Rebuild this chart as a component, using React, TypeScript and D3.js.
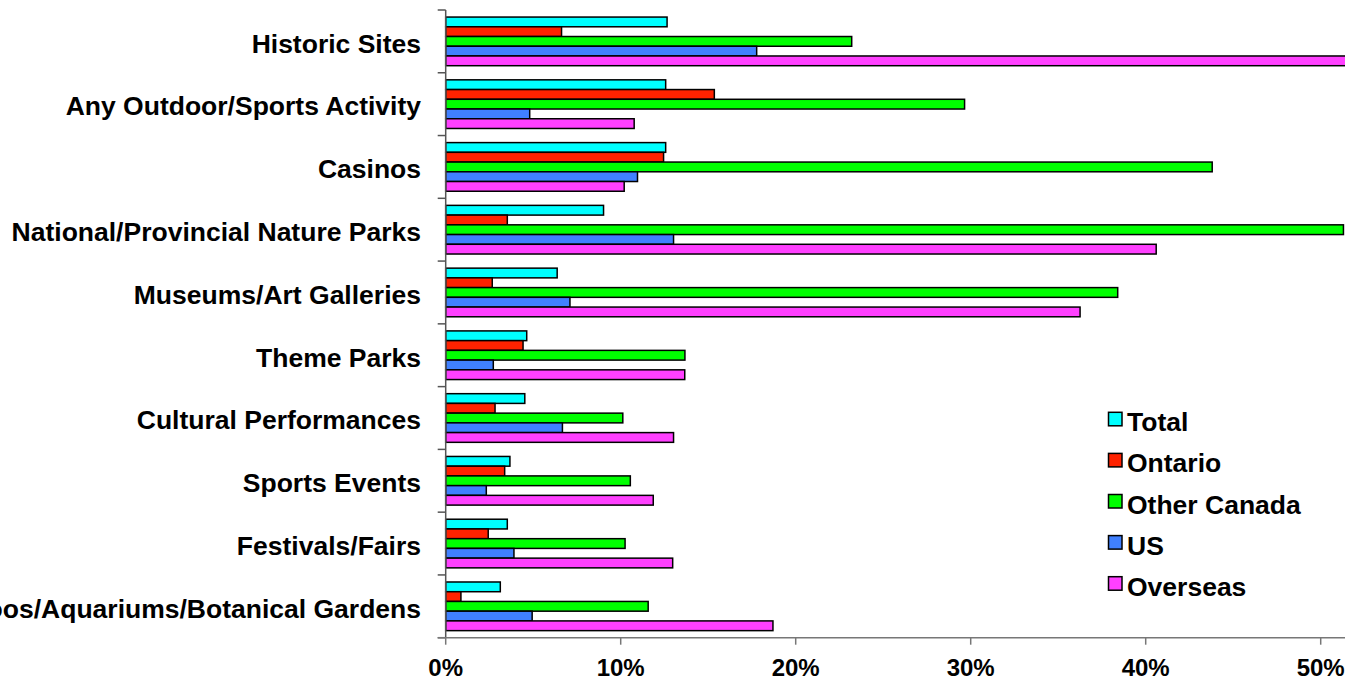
import React, { useEffect, useRef } from "react";
import * as d3 from "d3";

const categories = [
  "Historic Sites",
  "Any Outdoor/Sports Activity",
  "Casinos",
  "National/Provincial Nature Parks",
  "Museums/Art Galleries",
  "Theme Parks",
  "Cultural Performances",
  "Sports Events",
  "Festivals/Fairs",
  "Zoos/Aquariums/Botanical Gardens",
];

const seriesNames = ["Total", "Ontario", "Other Canada", "US", "Overseas"];
const seriesColors = ["#00FFFF", "#FF2200", "#00FF00", "#4080FF", "#FF40FF"];

const total = [12.65, 12.57, 12.57, 9.02, 6.37, 4.63, 4.52, 3.67, 3.52, 3.12];
const ontario = [6.62, 15.35, 12.45, 3.52, 2.66, 4.42, 2.82, 3.37, 2.43, 0.87];
const otherCanada = [23.2, 29.65, 43.8, 51.3, 38.4, 13.67, 10.12, 10.55, 10.25, 11.57];
const us = [17.77, 4.8, 10.96, 13.02, 7.1, 2.72, 6.67, 2.32, 3.9, 4.94];
const overseas = [57, 10.77, 10.2, 40.6, 36.25, 13.66, 13.02, 11.86, 12.97, 18.7];

const seriesValues = [total, ontario, otherCanada, us, overseas];
const xTicks = [0, 10, 20, 30, 40, 50];

const W = 1345;
const H = 681;
const left = 445.7;
const top = 10;
const bottom = 637.7;
const FONT = "Liberation Sans, Arial, sans-serif";

export default function App() {
  const ref = useRef<SVGSVGElement>(null);
  useEffect(() => {
    const svg = d3.select(ref.current);
    svg.selectAll("*").remove();
    const x = d3.scaleLinear().domain([0, 60]).range([left, left + 1050]);
    const y = d3.scaleBand<string>().domain(categories).range([top, bottom]).padding(0);
    const step = y.bandwidth();
    const barH = 9.73;
    const groupOff = (step - barH * 5) / 2;

    const g = svg.append("g");
    categories.forEach((c, ci) => {
      seriesValues.forEach((vals, si) => {
        g.append("rect")
          .attr("x", x(0))
          .attr("y", (y(c) as number) + groupOff + si * barH)
          .attr("width", x(vals[ci]) - x(0))
          .attr("height", barH)
          .attr("fill", seriesColors[si])
          .attr("stroke", "#000")
          .attr("stroke-width", 1.5);
      });
    });

    const axisColor = "#555";
    g.append("line")
      .attr("x1", left).attr("x2", left)
      .attr("y1", top).attr("y2", bottom)
      .attr("stroke", axisColor).attr("stroke-width", 1.5);
    const bounds = categories.map((c) => y(c) as number).concat([bottom]);
    bounds.forEach((b) => {
      g.append("line")
        .attr("x1", left - 8).attr("x2", left)
        .attr("y1", b).attr("y2", b)
        .attr("stroke", axisColor).attr("stroke-width", 1.5);
    });
    g.append("line")
      .attr("x1", left - 8).attr("x2", W)
      .attr("y1", bottom).attr("y2", bottom)
      .attr("stroke", "#777").attr("stroke-width", 1.5);
    xTicks.forEach((t) => {
      g.append("line")
        .attr("x1", x(t)).attr("x2", x(t))
        .attr("y1", bottom).attr("y2", bottom + 7)
        .attr("stroke", "#777").attr("stroke-width", 1.5);
      g.append("text")
        .attr("x", x(t))
        .attr("y", 676)
        .attr("text-anchor", "middle")
        .attr("font-family", FONT)
        .attr("font-weight", "bold")
        .attr("font-size", 24)
        .text(`${t}%`);
    });

    categories.forEach((c) => {
      g.append("text")
        .attr("x", 421)
        .attr("y", (y(c) as number) + step / 2 + 2)
        .attr("dy", "0.35em")
        .attr("text-anchor", "end")
        .attr("font-family", FONT)
        .attr("font-weight", "bold")
        .attr("font-size", 26.5)
        .text(c);
    });

    seriesNames.forEach((n, i) => {
      const yy = 412.3 + i * 41.1;
      g.append("rect")
        .attr("x", 1108.5).attr("y", yy)
        .attr("width", 13.5).attr("height", 13.5)
        .attr("fill", seriesColors[i])
        .attr("stroke", "#000").attr("stroke-width", 1.5);
      g.append("text")
        .attr("x", 1127)
        .attr("y", yy + 19)
        .attr("font-family", FONT)
        .attr("font-weight", "bold")
        .attr("font-size", 26.5)
        .text(n);
    });
  }, []);
  return (
    <svg
      ref={ref}
      width={W}
      height={H}
      style={{ position: "absolute", left: 0, top: 0, background: "#fff" }}
    />
  );
}
